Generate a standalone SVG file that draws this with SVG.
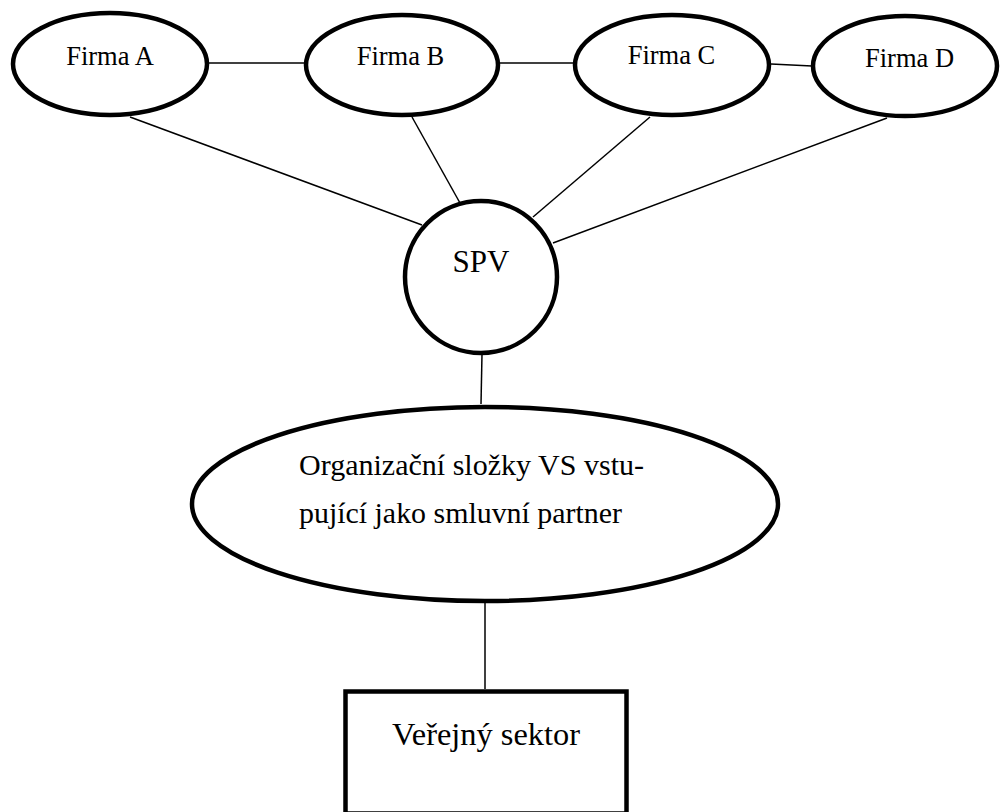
<svg xmlns="http://www.w3.org/2000/svg" width="1000" height="812" viewBox="0 0 1000 812">
<style>
.node{fill:#fff;stroke:#000;stroke-width:4.5}
.edge{stroke:#000;stroke-width:1.5;fill:none}
.t{font-family:"Liberation Serif","Times New Roman",serif;fill:#000}
</style>
<rect width="1000" height="812" fill="#fff"/>
<g id="connectors">
<line class="edge" x1="209" y1="63" x2="304" y2="63"/>
<line class="edge" x1="500" y1="63" x2="574" y2="63"/>
<line class="edge" x1="771" y1="64" x2="812" y2="66"/>
<line class="edge" x1="130" y1="117" x2="422" y2="225"/>
<line class="edge" x1="412" y1="117" x2="460" y2="203"/>
<line class="edge" x1="650" y1="117" x2="533" y2="217"/>
<line class="edge" x1="887" y1="118" x2="553" y2="243"/>
<line class="edge" x1="482" y1="354" x2="481" y2="404"/>
<line class="edge" x1="485" y1="603" x2="485" y2="689"/>
</g>
<g id="firmaA">
<ellipse class="node" cx="110" cy="64" rx="97" ry="51"/>
<text class="t" x="110" y="65" font-size="26.5" text-anchor="middle">Firma A</text>
</g>
<g id="firmaB">
<ellipse class="node" cx="402" cy="65" rx="96" ry="50"/>
<text class="t" x="400.5" y="65" font-size="26.5" text-anchor="middle">Firma B</text>
</g>
<g id="firmaC">
<ellipse class="node" cx="672" cy="65" rx="97" ry="50"/>
<text class="t" x="671.5" y="64" font-size="26.5" text-anchor="middle">Firma C</text>
</g>
<g id="firmaD">
<ellipse class="node" cx="905" cy="66" rx="92" ry="50"/>
<text class="t" x="909.5" y="67" font-size="26.5" text-anchor="middle">Firma D</text>
</g>
<g id="spv">
<circle class="node" cx="481" cy="277" r="76"/>
<text class="t" x="481" y="272" font-size="31" text-anchor="middle">SPV</text>
</g>
<g id="organizacni">
<ellipse class="node" cx="485" cy="504" rx="293" ry="97"/>
<text class="t" x="299" y="475" font-size="29" textLength="345" lengthAdjust="spacingAndGlyphs">Organizační složky VS vstu-</text>
<text class="t" x="299" y="523" font-size="29" textLength="323" lengthAdjust="spacingAndGlyphs">pující jako smluvní partner</text>
</g>
<g id="verejny">
<rect class="node" x="345.5" y="691.5" width="281" height="122" stroke-width="5"/>
<text class="t" x="392" y="745" font-size="31" textLength="188" lengthAdjust="spacingAndGlyphs">Veřejný sektor</text>
</g>
</svg>
